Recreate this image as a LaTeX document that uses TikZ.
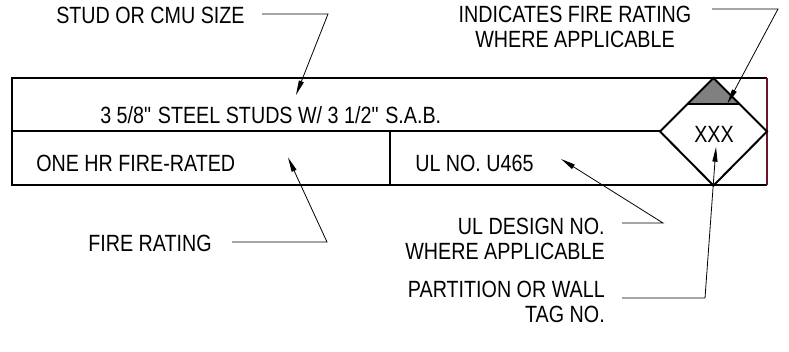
\documentclass[tikz,border=0pt]{standalone}
\usepackage{fontspec}
\setmainfont[FakeStretch=0.84]{Liberation Sans}
\usetikzlibrary{arrows.meta}
\definecolor{tagfill}{RGB}{128,128,128}
\definecolor{edgered}{RGB}{110,20,40}
\begin{document}
\begin{tikzpicture}[x=0.75pt,y=-0.75pt,
  boxline/.style={line width=1.5pt,line join=miter},
  leader/.style={line width=0.6pt},
  tip/.style={-{Triangle[length=11pt,width=3.8pt]}},
  lbl/.style={inner sep=0pt,font=\fontsize{17.6}{18.75}\selectfont},
]
\useasboundingbox (0,0) rectangle (789,352);
% diamond and grey triangle
\coordinate (dT) at (713.5,78);
\coordinate (dL) at (660,131.5);
\coordinate (dR) at (767,131.5);
\coordinate (dB) at (713.5,185.5);
\coordinate (gL) at (687.5,104.5);
\coordinate (gR) at (739.5,104.5);
\fill[tagfill] (dT) -- (gL) -- (gR) -- cycle;
% outer box
\draw[boxline] (767,78) -- (12,78) -- (12,185.5) -- (767,185.5);
\draw[line width=0.8pt,draw=edgered] (767,78) -- (767,185.5);
\draw[boxline] (12,131.5) -- (dL);
\draw[boxline] (390,131.5) -- (390,185.5);
\draw[boxline] (dT) -- (dR) -- (dB) -- (dL) -- cycle;
\draw[boxline] (gL) -- (gR);
% texts
\node[lbl,anchor=base west] (main) at (100,124) {3 5/8\textquotedbl{} STEEL STUDS W/ 3 1/2\textquotedbl{} S.A.B.};
\node[lbl,anchor=base west] (onehr) at (36,171.5) {ONE HR FIRE-RATED};
\node[lbl,anchor=base west] (ulno) at (415,171.5) {UL NO. U465};
\node[lbl,anchor=base] (xxx) at (714,143) {XXX};
\node[lbl,anchor=base west] (stud) at (56,23.3) {STUD OR CMU SIZE};
\node[lbl,anchor=base,align=center] (ind) at (575,48) {INDICATES FIRE RATING\\WHERE APPLICABLE};
\node[lbl,anchor=base west] (fr) at (88,251.5) {FIRE RATING};
\node[lbl,anchor=base east,align=right] (uld) at (605,260) {UL DESIGN NO.\\WHERE APPLICABLE};
\node[lbl,anchor=base east,align=right] (part) at (605,323) {PARTITION OR WALL\\TAG NO.};
% leader coordinates
\coordinate (s1) at (262,14);   \coordinate (s2) at (328,14);   \coordinate (s3) at (296,95);
\coordinate (i1) at (712,9);    \coordinate (i2) at (778,9);    \coordinate (i3) at (727.5,103.5);
\coordinate (f1) at (232,242);  \coordinate (f2) at (327,242);  \coordinate (f3) at (288,157.5);
\coordinate (u1) at (622,223);  \coordinate (u2) at (663,223);  \coordinate (u3) at (561,159);
\coordinate (p1) at (622,298);  \coordinate (p2) at (705,298);  \coordinate (p3) at (716,147);
\draw[leader,tip] (s1) -- (s2) -- (s3);
\draw[leader,tip] (i1) -- (i2) -- (i3);
\draw[leader,tip] (f1) -- (f2) -- (f3);
\draw[leader,tip] (u1) -- (u2) -- (u3);
\draw[leader,tip] (p1) -- (p2) -- (p3);
\end{tikzpicture}
\end{document}
